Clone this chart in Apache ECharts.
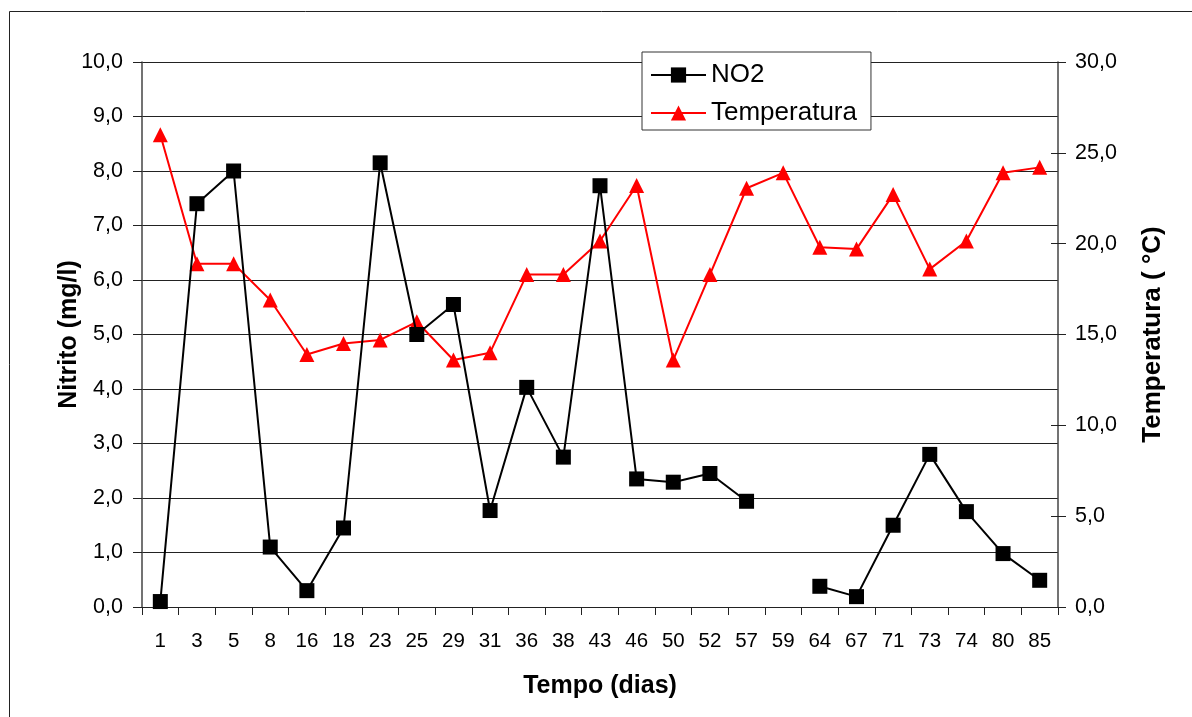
<!DOCTYPE html>
<html>
<head>
<meta charset="utf-8">
<script src="https://cdn.jsdelivr.net/npm/echarts@6/dist/echarts.min.js"></script>
<style>
html,body{margin:0;padding:0;background:#fff;}
#chart{width:1192px;height:717px;}
</style>
</head>
<body>
<div id="chart"></div>
<script>
// Data
var days = ['1','3','5','8','16','18','23','25','29','31','36','38','43','46','50','52','57','59','64','67','71','73','74','80','85'];
var no2 = [0.1,7.4,8.0,1.1,0.3,1.45,8.15,5.0,5.55,1.77,4.03,2.75,7.73,2.35,2.29,2.45,1.94,null,0.38,0.19,1.5,2.8,1.75,0.98,0.49];
var temperatura = [26.0,18.9,18.9,16.9,13.9,14.5,14.7,15.7,13.6,14.0,18.3,18.3,20.15,23.2,13.6,18.3,23.05,23.9,19.8,19.7,22.7,18.6,20.15,23.9,24.2];
var seriesNames = ['NO2','Temperatura'];
var axisTitles = {x:'Tempo (dias)', left:'Nitrito (mg/l)', right:'Temperatura ( °C)'};

var FONT = '"Liberation Sans", Arial, sans-serif';
function fmt(v){ return v.toFixed(1).replace('.', ','); }

var chart = echarts.init(document.getElementById('chart'), null, {renderer:'canvas'});
var option = {
  backgroundColor: '#fff',
  animation: false,
  textStyle: {fontFamily: FONT},
  graphic: [{
    type: 'rect', silent: true, z: -1,
    shape: {x: 9.5, y: 11.5, width: 1200, height: 800},
    style: {fill: 'none', stroke: '#222', lineWidth: 1}
  }],
  grid: {left: 142, right: 134, top: 62, bottom: 110, containLabel: false},
  legend: {
    orient: 'vertical',
    left: 642, top: 52,
    padding: [10, 14, 4, 8],
    itemGap: 12,
    itemWidth: 55, itemHeight: 19,
    backgroundColor: '#fff',
    borderColor: '#333', borderWidth: 1, borderRadius: 0,
    textStyle: {fontFamily: FONT, fontSize: 26, color: '#000', padding: [0,0,0,0]},
    data: seriesNames
  },
  xAxis: {
    type: 'category',
    data: days,
    boundaryGap: true,
    name: axisTitles.x,
    nameLocation: 'middle',
    nameGap: 67,
    nameMoveOverlap: false,
    nameTextStyle: {fontFamily: FONT, fontSize: 25, fontWeight: 'bold', color: '#000'},
    axisLine: {lineStyle: {color: '#222', width: 1}},
    axisTick: {show: true, inside: false, length: 8, alignWithLabel: false, lineStyle: {color: '#222'}},
    axisLabel: {fontFamily: FONT, fontSize: 20.5, color: '#000', margin: 24, interval: 0},
    splitLine: {show: false}
  },
  yAxis: [{
    type: 'value', position: 'left',
    min: 0, max: 10, interval: 1,
    name: axisTitles.left,
    nameLocation: 'middle',
    nameGap: 60,
    nameMoveOverlap: false,
    nameTextStyle: {fontFamily: FONT, fontSize: 25, fontWeight: 'bold', color: '#000'},
    axisLine: {show: true, lineStyle: {color: '#444', width: 1.5}},
    axisTick: {show: true, inside: false, length: 9, lineStyle: {color: '#222'}},
    axisLabel: {fontFamily: FONT, fontSize: 21.5, color: '#000', margin: 19, formatter: fmt},
    splitLine: {show: true, lineStyle: {color: '#222', width: 1}}
  }, {
    type: 'value', position: 'right',
    min: 0, max: 30, interval: 5,
    name: axisTitles.right,
    nameLocation: 'middle',
    nameGap: 82,
    nameMoveOverlap: false,
    nameTextStyle: {fontFamily: FONT, fontSize: 26, fontWeight: 'bold', color: '#000'},
    axisLine: {show: true, lineStyle: {color: '#444', width: 1.5}},
    axisTick: {show: true, inside: false, length: 8, lineStyle: {color: '#222'}},
    axisLabel: {fontFamily: FONT, fontSize: 21.5, color: '#000', margin: 17, formatter: fmt},
    splitLine: {show: false}
  }, {
    type: 'value', position: 'right',
    min: 0, max: 30, interval: 5,
    axisLine: {show: false},
    axisTick: {show: true, inside: true, length: 7, lineStyle: {color: '#222'}},
    axisLabel: {show: false},
    splitLine: {show: false}
  }],
  series: [{
    name: seriesNames[0],
    type: 'line',
    yAxisIndex: 0,
    data: no2,
    connectNulls: false,
    symbol: 'rect', symbolSize: 15,
    lineStyle: {color: '#000', width: 2},
    itemStyle: {color: '#000'},
    z: 3
  }, {
    name: seriesNames[1],
    type: 'line',
    yAxisIndex: 1,
    data: temperatura,
    symbol: 'triangle', symbolSize: 15,
    lineStyle: {color: '#ff0000', width: 2},
    itemStyle: {color: '#ff0000'},
    z: 2
  }]
};
chart.setOption(option);
</script>
</body>
</html>
